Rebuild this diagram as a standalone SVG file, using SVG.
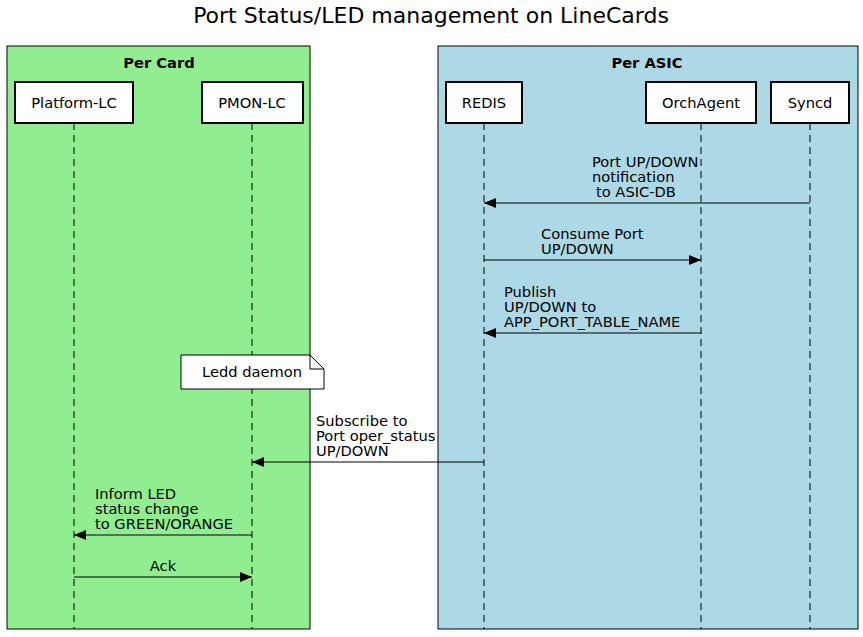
<svg xmlns="http://www.w3.org/2000/svg" width="863" height="637" viewBox="0 0 863 637">
<style>
text{font-family:"DejaVu Sans",sans-serif;font-size:14.67px;fill:#000}
.title{font-size:22px}
.grp{font-weight:bold}
.actor rect{fill:#fff;stroke:#000;stroke-width:2}
.life{stroke:#000;stroke-width:1;stroke-dasharray:7,5}
.msg{stroke:#000;stroke-width:1;fill:none}
</style>
<defs>
<marker id="ah" markerWidth="12" markerHeight="10" refX="12" refY="5" orient="auto" markerUnits="userSpaceOnUse">
<path d="M0,0 L12,5 L0,10 Z" fill="#000"/>
</marker>
</defs>
<rect width="863" height="637" fill="#fff"/>
<text class="title" x="431" y="23" text-anchor="middle">Port Status/LED management on LineCards</text>
<g id="percard">
<rect x="7" y="46" width="303" height="583" fill="#90ee90" stroke="#000" stroke-width="1"/>
<text class="grp" x="159" y="68" text-anchor="middle">Per Card</text>
</g>
<g id="perasic">
<rect x="438" y="46" width="420" height="583" fill="#add8e6" stroke="#000" stroke-width="1"/>
<text class="grp" x="647" y="68" text-anchor="middle">Per ASIC</text>
</g>
<g id="lifelines">
<line class="life" x1="74" y1="123" x2="74" y2="629"/>
<line class="life" x1="252" y1="123" x2="252" y2="629"/>
<line class="life" x1="484" y1="123" x2="484" y2="629"/>
<line class="life" x1="701" y1="123" x2="701" y2="629"/>
<line class="life" x1="810" y1="123" x2="810" y2="629"/>
</g>
<g id="platform-lc" class="actor"><rect x="15" y="82" width="118" height="41"/><text x="74" y="108" text-anchor="middle">Platform-LC</text></g>
<g id="pmon-lc" class="actor"><rect x="202" y="82" width="101" height="41"/><text x="252" y="108" text-anchor="middle">PMON-LC</text></g>
<g id="redis" class="actor"><rect x="446" y="82" width="76" height="41"/><text x="484" y="108" text-anchor="middle">REDIS</text></g>
<g id="orchagent" class="actor"><rect x="646" y="82" width="110" height="41"/><text x="701" y="108" text-anchor="middle">OrchAgent</text></g>
<g id="syncd" class="actor"><rect x="771" y="82" width="78" height="41"/><text x="810" y="108" text-anchor="middle">Syncd</text></g>
<g id="note">
<path d="M181,355 L310,355 L324,369 L324,389 L181,389 Z" fill="#fff" stroke="#000" stroke-width="1"/>
<path d="M310,355 L310,369 L324,369" fill="none" stroke="#000" stroke-width="1"/>
<text x="252" y="377" text-anchor="middle">Ledd daemon</text>
</g>
<g id="connectors">
<line class="msg" x1="810" y1="203" x2="484" y2="203" marker-end="url(#ah)"/>
<line class="msg" x1="484" y1="260" x2="701" y2="260" marker-end="url(#ah)"/>
<line class="msg" x1="701" y1="333" x2="484" y2="333" marker-end="url(#ah)"/>
<line class="msg" x1="484" y1="462" x2="252" y2="462" marker-end="url(#ah)"/>
<line class="msg" x1="252" y1="535" x2="74" y2="535" marker-end="url(#ah)"/>
<line class="msg" x1="74" y1="577" x2="252" y2="577" marker-end="url(#ah)"/>
</g>
<g id="labels">
<text x="592" y="167">Port UP/DOWN</text>
<text x="592" y="182">notification</text>
<text x="596" y="197">to ASIC-DB</text>
<text x="541" y="239">Consume Port</text>
<text x="541" y="254">UP/DOWN</text>
<text x="504" y="297">Publish</text>
<text x="504" y="312">UP/DOWN to</text>
<text x="504" y="327">APP_PORT_TABLE_NAME</text>
<text x="316" y="426">Subscribe to</text>
<text x="316" y="441">Port oper_status</text>
<text x="316" y="456">UP/DOWN</text>
<text x="95" y="499">Inform LED</text>
<text x="95" y="514">status change</text>
<text x="95" y="529">to GREEN/ORANGE</text>
<text x="163" y="571" text-anchor="middle">Ack</text>
</g>
</svg>
